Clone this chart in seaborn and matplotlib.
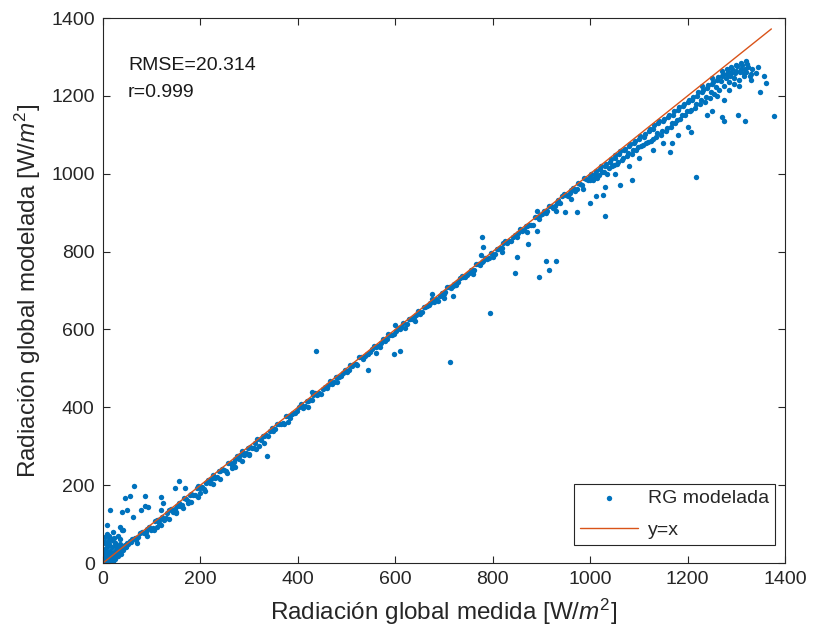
import matplotlib
matplotlib.use("Agg")
import matplotlib.pyplot as plt
import numpy as np
import pandas as pd
import seaborn as sns

sns.set_style("white")
plt.rcParams['font.family'] = ['Liberation Sans', 'DejaVu Sans']
plt.rcParams['mathtext.fontset'] = 'custom'
plt.rcParams['mathtext.rm'] = 'Liberation Sans'
plt.rcParams['mathtext.it'] = 'Liberation Sans:italic'

BLUE = '#0072BD'
ORANGE = '#D95319'
DARK = '#262626'

############################## DATA ##############################

# cluster near the origin
low_x = [0, 1, 2, 3, 3, 4, 5, 5, 6, 7, 8, 9, 10, 11, 12, 13, 14, 15, 16, 18,
         19, 20, 22, 24, 25, 27, 28, 30, 32, 34, 35, 37, 40, 42, 44, 46, 48, 50, 52, 55,
         58, 60, 2, 6, 9, 12, 15, 18, 22, 26, 30, 34, 38, 20, 25, 30, 36, 42, 48, 4, 8, 14]
low_y = [0, 3, 8, 1, 15, 22, 5, 35, 12, 28, 4, 18, 44, 9, 25, 48, 14, 32, 20, 12,
         40, 26, 18, 30, 52, 22, 36, 28, 42, 30, 50, 33, 38, 44, 40, 47, 45, 52, 48, 56,
         55, 61, 55, 48, 30, 60, 6, 58, 64, 45, 70, 62, 35, 3, 10, 18, 24, 33, 40, 68, 75, 65]

# overestimated points at low radiation
low_out_x = [63, 156, 168, 55, 45, 86, 120, 14, 38, 50, 77, 93, 62, 124, 86, 8, 35, 38, 41, 4,
             25, 147, 120, 12, 20]
low_out_y = [199, 211, 194, 173, 166, 172, 170, 136, 132, 136, 136, 143, 119, 153, 147, 98, 93, 85, 86, 55,
             51, 192, 136, 70, 80]

# main band along y=x
band_x = [65, 72, 80, 88, 95, 102, 110, 118, 125, 132,
          140, 148, 155, 162, 170, 178, 185, 192, 200, 208,
          215, 222, 230, 238, 245, 252, 260, 268, 275, 282,
          290, 298, 305, 312, 320, 328, 335, 342, 350, 358,
          365, 372, 380, 388, 395, 402, 410, 418, 425, 432,
          440, 448, 455, 462, 470, 478, 485, 492, 500, 508,
          515, 522, 530, 538, 545, 552, 560, 568, 575, 582,
          590, 598, 605, 612, 620, 628, 635, 642, 650, 658,
          665, 672, 680, 688, 695, 702, 710, 718, 725, 732,
          740, 748, 755, 762, 770, 778, 785, 792, 800, 808,
          815, 822, 830, 838, 845, 852, 860, 868, 875, 882,
          890, 898, 905, 912, 920, 928, 935, 942, 950, 958,
          965, 972, 980, 988, 995]
band_y = [63, 67, 79, 80, 92, 90, 110, 112, 110, 128,
          138, 139, 154, 148, 165, 175, 175, 192, 193, 190,
          213, 216, 219, 237, 241, 236, 257, 260, 275, 277,
          278, 296, 296, 308, 300, 327, 329, 339, 340, 358,
          358, 358, 378, 383, 386, 401, 398, 415, 419, 432,
          432, 433, 453, 458, 459, 477, 478, 489, 490, 508,
          510, 509, 528, 532, 536, 551, 556, 556, 575, 575,
          587, 588, 603, 607, 604, 627, 627, 638, 639, 658,
          659, 669, 671, 674, 693, 697, 709, 711, 713, 732,
          736, 740, 753, 752, 767, 772, 784, 783, 785, 806,
          810, 822, 823, 827, 842, 848, 852, 867, 869, 869,
          888, 893, 905, 903, 916, 916, 932, 942, 946, 950,
          964, 962, 974, 988, 983]

band2_x = [68, 84, 99, 114, 129, 144, 159, 174, 189, 204, 219, 234, 249, 264, 279, 294,
           309, 324, 339, 354, 369, 384, 399, 414, 429, 444, 459, 474, 489, 504, 519, 534,
           549, 564, 579, 594, 609, 624, 639, 654, 669, 684, 699, 714, 729, 744, 759, 774,
           789, 804, 819, 834, 849, 864, 879, 894, 909, 924, 939, 954, 969, 984, 999]
band2_y = [58, 76, 86, 104, 116, 130, 147, 160, 176, 195, 206, 222, 238, 251, 268, 283,
           296, 315, 327, 345, 360, 372, 390, 404, 418, 436, 449, 464, 480, 496, 512, 524,
           541, 557, 570, 586, 602, 614, 631, 646, 662, 677, 690, 706, 722, 736, 750, 766,
           781, 795, 808, 826, 838, 856, 868, 884, 898, 913, 926, 943, 955, 970, 985]

band3_x = [76, 91, 106, 121, 136, 151, 166, 181, 196, 211, 226, 241, 256, 271, 286, 301,
           316, 331, 346, 361, 376, 391, 406, 421, 436, 451, 466, 481, 496, 511, 526, 541,
           556, 571, 586, 601, 616, 631, 646, 661, 676, 691, 706, 721, 736, 751, 766, 781,
           796, 811, 826, 841, 856, 871, 886, 901, 916, 931, 946, 961, 976, 991]
band3_y = [78, 88, 107, 117, 137, 146, 168, 177, 198, 206, 227, 236, 257, 266, 288, 297,
           318, 326, 348, 357, 377, 386, 408, 417, 437, 446, 468, 477, 497, 506, 528, 537,
           557, 566, 588, 597, 617, 626, 648, 657, 677, 686, 708, 717, 737, 746, 768, 777,
           797, 806, 828, 837, 857, 866, 888, 897, 917, 926, 947, 957, 977, 986]

band4_x = [70, 90, 105, 120, 135, 150, 165, 180, 195, 210, 225, 240, 255, 270, 285, 300, 315, 330]
band4_y = [52, 70, 86, 98, 112, 128, 142, 158, 170, 186, 202, 215, 232, 246, 262, 278, 292, 308]

band_dev_x = [150, 175, 265, 336, 420, 480, 560, 640, 700, 760, 820, 870, 930, 960, 985,
              430, 600, 775, 890, 110, 200, 300, 380]
band_dev_y = [130, 155, 245, 274, 400, 465, 540, 622, 680, 742, 800, 850, 905, 935, 960,
              440, 612, 790, 905, 92, 180, 280, 362]

# scattered points in the middle range
mid_out_x = [778, 780, 713, 794, 438, 846, 894, 909, 930, 915, 872, 850, 890, 598, 610, 543, 676, 718]
mid_out_y = [837, 811, 516, 642, 544, 744, 736, 777, 777, 753, 820, 787, 852, 538, 544, 495, 691, 685]

# high radiation cloud
high_x = [1000, 1005, 1010, 1015, 1020, 1025, 1030, 1035, 1040, 1045,
          1050, 1055, 1060, 1065, 1070, 1075, 1080, 1085, 1090, 1095,
          1100, 1105, 1110, 1115, 1120, 1125, 1130, 1135, 1140, 1145,
          1150, 1155, 1160, 1165, 1170, 1175, 1180, 1185, 1190, 1195,
          1200, 1205, 1210, 1215, 1220, 1225, 1230, 1235, 1240, 1245,
          1250, 1255, 1260, 1265, 1270, 1275, 1280, 1285, 1290, 1295,
          1300, 1305, 1310, 1315, 1320, 1325, 1330, 1300, 1290, 1270,
          1250, 1230, 1280, 1310, 1320, 1050, 1100, 1150, 1200, 1250,
          1130, 1180, 1240, 1080, 1260, 1285, 1305, 1295, 1315, 1275]
high_y = [995, 985, 1000, 990, 1012, 1005, 1020, 1000, 1030, 1020,
          1040, 1025, 1050, 1035, 1060, 1045, 1070, 1050, 1080, 1060,
          1090, 1070, 1095, 1080, 1110, 1085, 1115, 1095, 1130, 1100,
          1135, 1110, 1145, 1120, 1150, 1130, 1165, 1140, 1175, 1150,
          1185, 1160, 1190, 1170, 1200, 1180, 1210, 1185, 1220, 1195,
          1230, 1205, 1240, 1215, 1250, 1225, 1255, 1235, 1260, 1245,
          1265, 1240, 1270, 1250, 1262, 1275, 1255, 1280, 1275, 1265,
          1245, 1225, 1270, 1285, 1290, 1000, 1040, 1080, 1120, 1160,
          1060, 1100, 1150, 1020, 1200, 1215, 1225, 1230, 1260, 1190]

high2_x = [1002, 1012, 1022, 1032, 1042, 1052, 1062, 1072, 1082, 1092, 1102, 1112,
           1122, 1132, 1142, 1152, 1162, 1172, 1182, 1192, 1202, 1212, 1222, 1232,
           1242, 1252, 1262, 1272, 1282, 1292, 1302, 1312, 1322, 1332,
           1258, 1268, 1278, 1288, 1298, 1308, 1318, 1328,
           1248, 1238, 1228, 1218, 1208, 1198, 1188, 1178, 1168, 1158, 1148, 1138,
           1128, 1118, 1108, 1098, 1088, 1078, 1068, 1058, 1048, 1038, 1028, 1018, 1008]
high2_y = [1000, 1008, 1019, 1026, 1038, 1047, 1058, 1064, 1076, 1085, 1096, 1103,
           1114, 1124, 1135, 1140, 1152, 1160, 1172, 1178, 1190, 1198, 1210, 1215,
           1228, 1236, 1248, 1256, 1262, 1270, 1276, 1280, 1282, 1270,
           1222, 1238, 1246, 1252, 1258, 1262, 1268, 1250,
           1210, 1198, 1190, 1178, 1165, 1160, 1150, 1138, 1130, 1118, 1110, 1105,
           1090, 1082, 1075, 1068, 1060, 1052, 1040, 1030, 1022, 1015, 1005, 998, 990]

high_out_x = [1061, 1085, 1027, 1000, 972, 949, 1013, 1031, 1030, 1217,
              1378, 1348, 1362, 1356, 1304, 1318, 1270, 1275, 1208, 1168,
              1164, 1340, 1330, 1345]
high_out_y = [971, 984, 945, 925, 902, 902, 943, 967, 892, 992,
              1148, 1211, 1234, 1251, 1151, 1136, 1146, 1136, 1108, 1079,
              1057, 1260, 1240, 1275]

line_x = [0, 1372]
line_y = [0, 1372]

ticks = [0, 200, 400, 600, 800, 1000, 1200, 1400]

rmse_text = 'RMSE=20.314'
r_text = 'r=0.999'

############################## PLOT ##############################

df = pd.DataFrame({
    'medida': np.concatenate([low_x, low_out_x, band_x, band2_x, band3_x, band4_x, band_dev_x,
                              mid_out_x, high_x, high2_x, high_out_x]),
    'modelada': np.concatenate([low_y, low_out_y, band_y, band2_y, band3_y, band4_y, band_dev_y,
                                mid_out_y, high_y, high2_y, high_out_y]),
})

fig = plt.figure(figsize=(8.22, 6.39), dpi=100)
ax = fig.add_axes([0.1253, 0.1189, 0.8297, 0.8529])

sns.scatterplot(data=df, x='medida', y='modelada', color=BLUE, s=15, linewidth=0,
                label='RG modelada', ax=ax)
sns.lineplot(x=line_x, y=line_y, color=ORANGE, linewidth=1, label='y=x', ax=ax)

ax.set_xlim(0, 1400)
ax.set_ylim(0, 1400)
ax.set_xticks(ticks)
ax.set_yticks(ticks)
ax.tick_params(direction='in', length=5, width=0.8, top=True, right=True, bottom=True, left=True,
               labelsize=14, colors=DARK)
ax.tick_params(axis='x', pad=6)
ax.tick_params(axis='y', pad=6)
for s in ax.spines.values():
    s.set_color(DARK)
    s.set_linewidth(0.8)

ax.set_xlabel(r'Radiación global medida [W/$m^2$]', fontsize=17.5, color=DARK, labelpad=6)
ax.set_ylabel(r'Radiación global modelada [W/$m^2$]', fontsize=17.5, color=DARK, labelpad=6)

ax.text(0.0367, 0.912, rmse_text, transform=ax.transAxes, fontsize=14, va='center', color='#1a1a1a')
ax.text(0.0367, 0.864, r_text, transform=ax.transAxes, fontsize=14, va='center', color='#1a1a1a')

leg = ax.legend(loc='lower right', bbox_to_anchor=(0.9854, 0.033), borderaxespad=0, frameon=True,
                fancybox=False, edgecolor=DARK, fontsize=14, handlelength=3.0, handletextpad=0.5,
                borderpad=0.3, labelspacing=0.75, framealpha=1)
leg.get_frame().set_linewidth(0.8)

plt.savefig('out.png', dpi=100)
